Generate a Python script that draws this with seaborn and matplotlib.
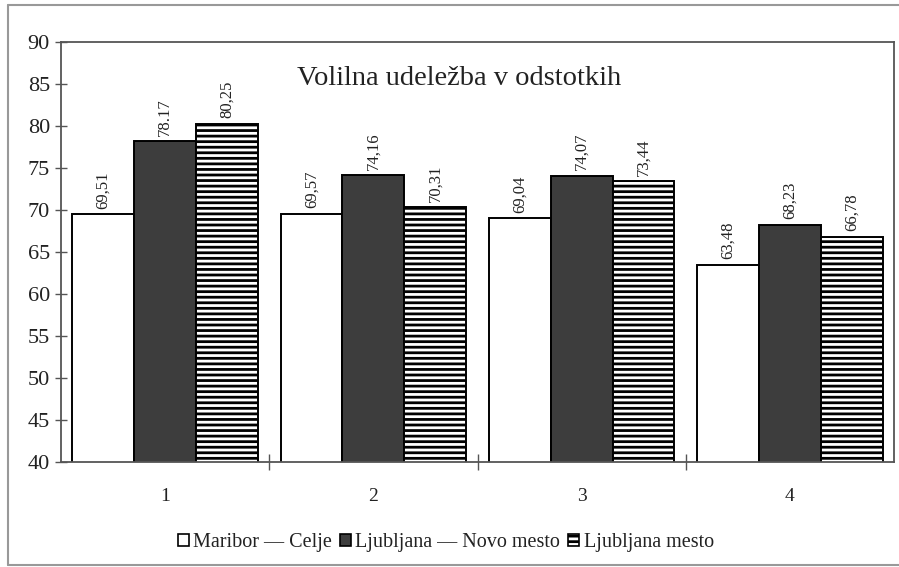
import pandas as pd
import matplotlib
matplotlib.use("Agg")
import matplotlib.pyplot as plt
from matplotlib.patches import Patch
from matplotlib.lines import Line2D
import seaborn as sns

# podatki
kategorije = ["1", "2", "3", "4"]
serije = ["Maribor — Celje", "Ljubljana — Novo mesto", "Ljubljana mesto"]
maribor_celje = [69.51, 69.57, 69.04, 63.48]
ljubljana_novo_mesto = [78.17, 74.16, 74.07, 68.23]
ljubljana_mesto = [80.25, 70.31, 73.44, 66.78]
oznake = [
    ["69,51", "69,57", "69,04", "63,48"],
    ["78.17", "74,16", "74,07", "68,23"],
    ["80,25", "70,31", "73,44", "66,78"],
]
naslov = "Volilna udeležba v odstotkih"

barve = ["#ffffff", "#3d3d3d", "#ffffff"]
srafure = ["", "", "---"]

df = pd.DataFrame({
    "kategorija": kategorije * 3,
    "serija": [s for s in serije for _ in kategorije],
    "vrednost": maribor_celje + ljubljana_novo_mesto + ljubljana_mesto,
})

sns.set_style("white")
plt.rcParams["font.family"] = ["Liberation Serif", "DejaVu Serif"]
plt.rcParams["hatch.linewidth"] = 2.0
TXT = "#222222"

fig = plt.figure(figsize=(8.99, 5.67), dpi=100)
ax = fig.add_axes([61 / 899, 1 - 462 / 567, (894 - 61) / 899, (462 - 42) / 567])

sns.barplot(data=df, x="kategorija", y="vrednost", hue="serija",
            order=kategorije, hue_order=serije, palette=barve,
            width=0.89, edgecolor="black", linewidth=1.4,
            saturation=1, legend=False, ax=ax)

for cont, h, lab in zip(ax.containers, srafure, oznake):
    for bar in cont:
        bar.set_hatch(h)
        bar.set_edgecolor("black")
    ax.bar_label(cont, labels=lab, rotation=90, padding=4,
                 fontsize=12, color=TXT)

ax.set_ylim(40, 90)
ax.set_xlim(-0.5, 3.5)
ax.set_yticks(range(40, 91, 5))
ax.set_xlabel("")
ax.set_ylabel("")
ax.tick_params(axis="y", direction="inout", length=8, width=1,
               color="#555555", labelsize=16, labelcolor=TXT, pad=4, left=True)
ax.tick_params(axis="x", which="major", length=0, labelsize=14,
               labelcolor=TXT, pad=19)
ax.set_xticks([0.5, 1.5, 2.5], minor=True)
ax.tick_params(axis="x", which="minor", direction="inout", length=12,
               width=1, color="#555555", bottom=True)

for s in ["top", "right", "left", "bottom"]:
    ax.spines[s].set_visible(True)
    ax.spines[s].set_linestyle((0, (1.5, 1)))
    ax.spines[s].set_color("#555555")
    ax.spines[s].set_linewidth(1.3)

ax.text(0.478, 0.914, naslov, transform=ax.transAxes, ha="center",
        va="center", fontsize=20.5, color=TXT)

rocaji = [Patch(facecolor=barve[i], edgecolor="black", hatch=srafure[i],
                linewidth=1.2) for i in range(3)]
fig.legend(rocaji, serije, loc="center", bbox_to_anchor=(446 / 899, 1 - 543 / 567),
           ncol=3, frameon=False, fontsize=14.5, handlelength=0.55,
           handleheight=0.55, handletextpad=0.2, columnspacing=0.4,
           labelcolor=TXT)

# okvir slike
for xs, ys in [([8, 8], [5, 565]), ([8, 899], [5, 5]), ([8, 899], [565, 565])]:
    fig.add_artist(Line2D([x / 899 for x in xs], [1 - y / 567 for y in ys],
                          color="#999999", linewidth=1.5,
                          transform=fig.transFigure))

fig.savefig("out.png", dpi=100)
